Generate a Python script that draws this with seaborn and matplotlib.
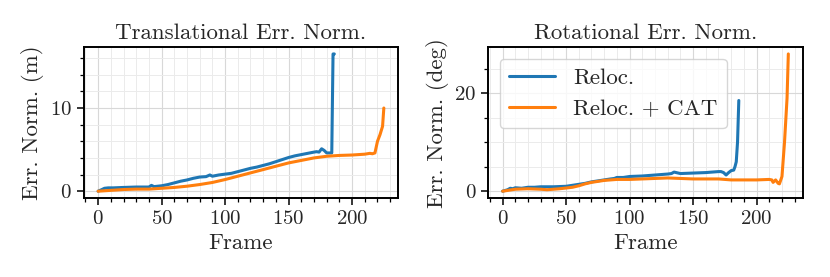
import seaborn as sns
import matplotlib.pyplot as plt
import pandas as pd
from matplotlib.ticker import MultipleLocator

# frames / values (key points along each curve)
trans_reloc_frame = [0, 3, 5, 8, 12, 20, 30, 40, 42, 44, 50, 55, 60, 65, 70, 75, 80, 85, 88, 90, 95,
                     100, 105, 110, 115, 120, 125, 130, 135, 140, 145, 150, 155, 160, 165, 170, 172,
                     174, 176, 178, 180, 182, 184, 185, 186]
trans_reloc_val = [0.0, 0.2, 0.35, 0.4, 0.4, 0.45, 0.5, 0.5, 0.7, 0.55, 0.65, 0.8, 1.0, 1.2, 1.35, 1.55,
                   1.7, 1.75, 1.95, 1.8, 1.95, 2.05, 2.15, 2.35, 2.55, 2.75, 2.9, 3.1, 3.3, 3.55, 3.8,
                   4.05, 4.25, 4.4, 4.55, 4.7, 4.75, 4.7, 5.1, 4.9, 4.6, 4.6, 4.6, 16.5, 16.5]

trans_cat_frame = [0, 10, 20, 30, 40, 50, 60, 70, 80, 90, 100, 110, 120, 130, 140, 150, 160, 170,
                   180, 190, 200, 205, 210, 214, 216, 218, 220, 222, 224, 225]
trans_cat_val = [0.0, 0.1, 0.2, 0.25, 0.25, 0.35, 0.45, 0.6, 0.8, 1.05, 1.4, 1.8, 2.2, 2.6, 3.0, 3.4,
                 3.7, 4.0, 4.2, 4.3, 4.35, 4.4, 4.45, 4.55, 4.5, 4.6, 6.0, 6.8, 7.8, 10.0]

rot_reloc_frame = [0, 4, 6, 8, 10, 15, 20, 25, 30, 40, 50, 55, 60, 65, 70, 75, 80, 85, 88, 90, 95,
                   100, 110, 120, 130, 133, 135, 140, 150, 160, 165, 170, 172, 174, 176, 178, 180,
                   182, 183, 184, 185, 186]
rot_reloc_val = [0.0, 0.3, 0.6, 0.5, 0.7, 0.6, 0.8, 0.8, 0.9, 0.9, 1.0, 1.2, 1.4, 1.6, 1.9, 2.1, 2.3,
                 2.5, 2.6, 2.8, 2.8, 3.0, 3.1, 3.3, 3.5, 3.6, 3.9, 3.6, 3.7, 3.8, 3.9, 4.0, 4.0,
                 3.8, 3.3, 3.8, 4.2, 4.3, 5.0, 6.0, 10.0, 18.5]

rot_cat_frame = [0, 10, 20, 30, 35, 45, 55, 60, 65, 70, 75, 80, 85, 90, 100, 110, 120, 130, 140, 150,
                 160, 170, 180, 190, 200, 210, 212, 213, 215, 217, 218, 220, 222, 224, 225]
rot_cat_val = [0.0, 0.4, 0.5, 0.4, 0.3, 0.5, 0.8, 1.1, 1.5, 1.8, 2.0, 2.2, 2.3, 2.4, 2.4, 2.5, 2.6,
               2.7, 2.6, 2.5, 2.5, 2.5, 2.3, 2.3, 2.3, 2.4, 2.3, 1.8, 2.3, 1.6, 1.5, 3.0, 10.0,
               19.0, 28.0]

labels = ["Reloc.", "Reloc. + CAT"]

sns.set_style("ticks")
plt.rcParams['font.family'] = ['cmr10', 'DejaVu Serif']
plt.rcParams['mathtext.fontset'] = 'cm'
plt.rcParams['axes.formatter.use_mathtext'] = True

fig, axes = plt.subplots(1, 2, figsize=(8.3, 2.77), dpi=100)
fig.subplots_adjust(left=0.101, right=0.967, top=0.83, bottom=0.285, wspace=0.287)

panels = [
    (axes[0], "Translational Err. Norm.", "Err. Norm. (m)",
     [(trans_reloc_frame, trans_reloc_val), (trans_cat_frame, trans_cat_val)], 10, 2),
    (axes[1], "Rotational Err. Norm.", "Err. Norm. (deg)",
     [(rot_reloc_frame, rot_reloc_val), (rot_cat_frame, rot_cat_val)], 20, 5),
]

colors = ["tab:blue", "tab:orange"]
for ax, title, ylabel, series, ymaj, ymin in panels:
    for (fr, val), lab, c in zip(series, labels, colors):
        df = pd.DataFrame({"Frame": fr, "val": val})
        sns.lineplot(data=df, x="Frame", y="val", ax=ax, color=c, lw=2.2, label=lab)
    ax.set_title(title, fontsize=16.5)
    ax.set_xlabel("Frame", fontsize=16.5)
    ax.set_ylabel(ylabel, fontsize=16.5)
    ax.xaxis.set_major_locator(MultipleLocator(50))
    ax.xaxis.set_minor_locator(MultipleLocator(10))
    ax.yaxis.set_major_locator(MultipleLocator(ymaj))
    ax.yaxis.set_minor_locator(MultipleLocator(ymin))
    ax.grid(which="major", color="#d8d8d8", lw=0.8)
    ax.grid(which="minor", color="#ebebeb", lw=0.7)
    ax.set_axisbelow(True)
    ax.tick_params(which="major", direction="out", labelsize=15, length=5, width=1.1, color="black")
    ax.tick_params(which="minor", direction="out", length=3, width=0.9, color="black")
    for s in ax.spines.values():
        s.set_linewidth(1.4)
        s.set_color("black")

axes[0].get_legend().remove()
axes[1].legend(loc="upper left", fontsize=16.5, framealpha=0.8, edgecolor="#cccccc",
               handlelength=2.0)

fig.savefig("out.png", dpi=100)
